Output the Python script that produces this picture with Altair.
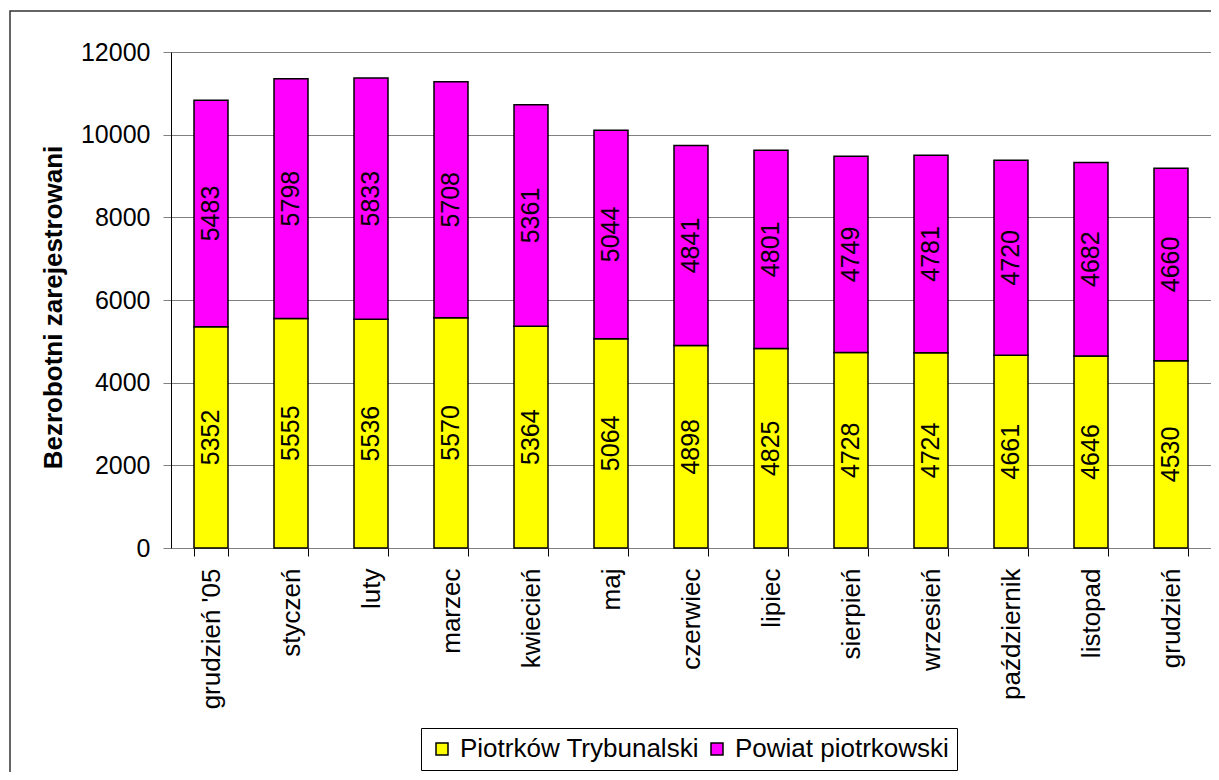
import altair as alt
import pandas as pd

months = ["grudzień '05", "styczeń", "luty", "marzec", "kwiecień", "maj", "czerwiec",
          "lipiec", "sierpień", "wrzesień", "październik", "listopad", "grudzień"]
piotrkow = [5352, 5555, 5536, 5570, 5364, 5064, 4898, 4825, 4728, 4724, 4661, 4646, 4530]
powiat = [5483, 5798, 5833, 5708, 5361, 5044, 4841, 4801, 4749, 4781, 4720, 4682, 4660]
series = ["Piotrków Trybunalski", "Powiat piotrkowski"]
colors = ["#FFFF00", "#FF00FF"]
y_ticks = [0, 2000, 4000, 6000, 8000, 10000, 12000]

rows = []
for i, m in enumerate(months):
    rows.append({"month": m, "series": series[0], "order": 0, "value": piotrkow[i]})
    rows.append({"month": m, "series": series[1], "order": 1, "value": powiat[i]})
df = pd.DataFrame(rows)

FONT = "Liberation Sans"
W, H = 1040, 496

base = alt.Chart(df).transform_stack(
    stack="value", groupby=["month"], as_=["v0", "v1"],
    sort=[alt.SortField("order", "ascending")]
).transform_calculate(mid="(datum.v0 + datum.v1) / 2")

xscale = alt.Scale(paddingInner=0.575, paddingOuter=0.2875)
yscale = alt.Scale(domain=[0, 12000], nice=False)

xaxis = alt.Axis(title=None, labelAngle=270, labelFont=FONT, labelFontSize=26,
                 labelColor="black", labelPadding=12, tickSize=8,
                 tickColor="black", tickBand="extent", domainColor="#808080",
                 grid=False, labelLimit=400)
yaxis = alt.Axis(values=y_ticks, format="d", title="Bezrobotni zarejestrowani",
                 titleFont=FONT, titleFontSize=26, titleFontWeight="bold",
                 titleColor="black", titleAngle=270, titleX=-118, titleY=255,
                 titleAlign="center", titleBaseline="middle",
                 labelFont=FONT, labelFontSize=25, labelColor="black",
                 labelPadding=13, tickSize=8, tickColor="#808080",
                 domainColor="black", grid=True, gridColor="#808080",
                 gridWidth=1)

bars = base.mark_bar(stroke="black", strokeWidth=1.5).encode(
    x=alt.X("month:N", sort=months, scale=xscale, axis=xaxis),
    y=alt.Y("v0:Q", scale=yscale, axis=yaxis),
    y2="v1:Q",
    color=alt.Color("series:N", scale=alt.Scale(domain=series, range=colors),
                    legend=alt.Legend(title=None, orient="none", legendX=250, legendY=676,
                                      direction="horizontal", symbolType="square",
                                      symbolSize=144, symbolStrokeColor="black",
                                      symbolStrokeWidth=1.5, labelFont=FONT,
                                      labelFontSize=26, labelColor="black",
                                      labelLimit=400,
                                      labelOffset=5, columnPadding=5, padding=8,
                                      strokeColor="black", fillColor="white")),
)

labels = base.mark_text(angle=270, fontSize=25, font=FONT, color="black",
                        align="center", baseline="middle").encode(
    x=alt.X("month:N", sort=months, scale=xscale, axis=xaxis),
    y=alt.Y("mid:Q", scale=yscale, axis=yaxis),
    text=alt.Text("value:Q", format="d"),
)

frame = alt.Chart(pd.DataFrame({"a": [0]})).mark_rect(
    fillOpacity=0, stroke="#333333", strokeWidth=1.5
).encode(x=alt.value(-161), x2=alt.value(1100), y=alt.value(-41), y2=alt.value(800))

chart = alt.layer(frame, bars, labels).properties(
    width=W, height=H,
    autosize=alt.AutoSizeParams(type="none"),
    padding={"left": 163, "top": 44, "right": 0, "bottom": 224},
).configure_view(strokeWidth=0)

chart.save("out.html", embed_options={"renderer": "svg", "actions": False})
